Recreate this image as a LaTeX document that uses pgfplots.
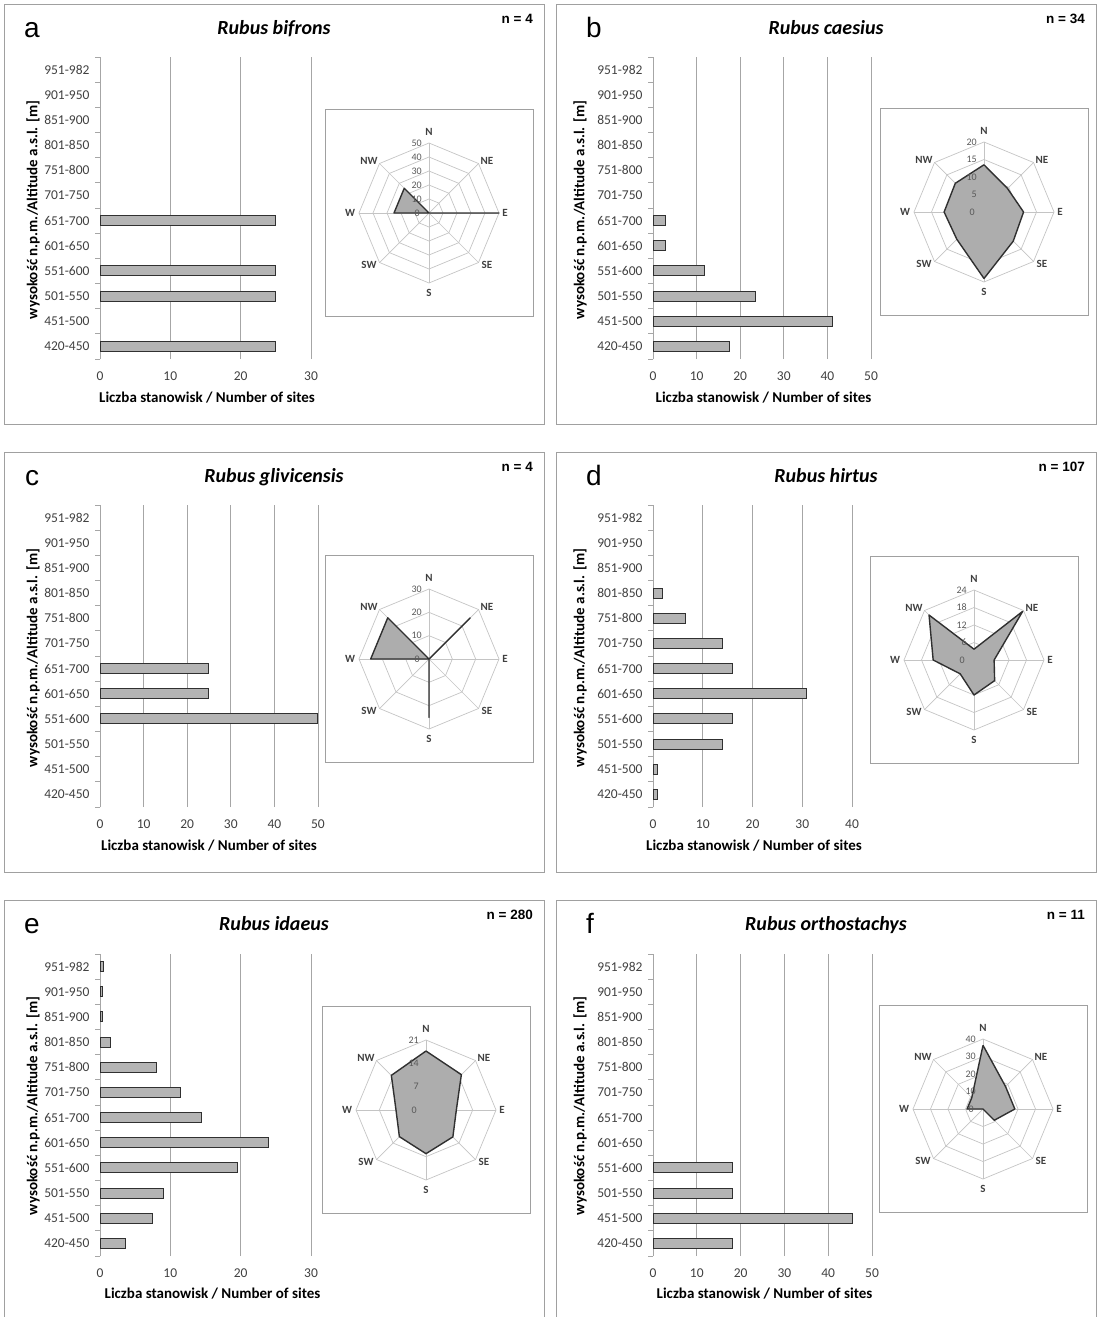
\documentclass[border=0pt]{standalone}
\usepackage{fontspec}
\setmainfont{Carlito}
\newfontfamily\arial{Liberation Sans}
\usepackage{pgfplots}
\pgfplotsset{compat=1.18}
\definecolor{barfill}{HTML}{B4B4B4}
\definecolor{barline}{HTML}{303030}
\definecolor{gridc}{HTML}{A6A6A6}
\definecolor{framec}{HTML}{A0A0A0}
\definecolor{radgrid}{HTML}{C4C4C4}
\definecolor{radfill}{HTML}{ADADAD}
\definecolor{tickc}{HTML}{404040}
\definecolor{rtickc}{HTML}{595959}
\newcommand\fs[1]{\fontsize{#1}{#1}\selectfont}
\pgfplotsset{
 barax/.style={
  scale only axis, height=302pt, anchor=south west,
  xmin=0, ymin=-0.5, ymax=11.5, xtick distance=10,
  axis lines*=left, x axis line style={draw=none}, y axis line style={-, gridc, line width=0.8pt},
  xbar, bar width=10pt,
  ytick={0,...,11},
  yticklabels={420-450,451-500,501-550,551-600,601-650,651-700,701-750,751-800,801-850,851-900,901-950,951-982},
  minor ytick={-0.5,0.5,...,11.5},
  major tick length=0pt, minor tick length=5pt, tick align=outside,
  minor tick style={gridc, line width=0.8pt},
  xmajorgrids, major grid style={gridc, line width=0.8pt},
  tick label style={font=\fs{13.5}, text=tickc},
  yticklabel style={xshift=-7pt},
  xticklabel style={yshift=-9pt},
  /pgf/number format/assume math mode=true,
  clip=false,
 },
 radax/.style={hide axis, scale only axis, width=140pt, height=140pt, anchor=center, clip=false},
}
% #1 cx, #2 cy, #3 max, #4 ring values, #5 coordinates
\newcommand\radar[5]{%
 \begin{scope}[shift={(#1pt,-#2pt)}]
  \draw[framec, line width=0.8pt] (-104pt,103.5pt) rectangle (104pt,-103.5pt);
  \foreach \k in {#4} {
   \pgfmathsetmacro\r{70*\k/#3}
   \draw[radgrid, line width=0.7pt] (0:\r pt) -- (45:\r pt) -- (90:\r pt) -- (135:\r pt) -- (180:\r pt) -- (225:\r pt) -- (270:\r pt) -- (315:\r pt) -- cycle;
  }
  \foreach \a in {0,45,...,315} \draw[radgrid, line width=0.7pt] (0,0) -- (\a:70pt);
 \end{scope}
 \begin{axis}[radax, at={(#1pt,-#2pt)}, xmin=-#3, xmax=#3, ymin=-#3, ymax=#3]
  \addplot[data cs=polar, fill=radfill, draw=barline, line width=1.4pt, line join=round] coordinates {#5};
 \end{axis}
 \begin{scope}[shift={(#1pt,-#2pt)}, font=\bfseries\fs{11}, text=tickc]
  \foreach \k in {#4} {
   \pgfmathsetmacro\r{70*\k/#3}
   \node[anchor=east, font=\fs{10}, text=rtickc, inner sep=0pt] at (-7pt,\r pt) {\k};
  }
  \node[anchor=east, font=\fs{10}, text=rtickc, inner sep=0pt] at (-9pt,0pt) {0};
  \node at (0pt,81pt) {N};
  \node at (58pt,52pt) {NE};
  \node at (76pt,0pt) {E};
  \node at (58pt,-52pt) {SE};
  \node at (0pt,-80pt) {S};
  \node at (-60pt,-52pt) {SW};
  \node at (-79pt,0pt) {W};
  \node at (-60pt,52pt) {NW};
 \end{scope}
}
% #1 letter x, #2 letter, #3 title, #4 n, #5 ylabel x, #6 xlabel x
\newcommand\panelframe[6]{%
 \draw[framec, line width=0.8pt] (0,0) rectangle (540pt,-420pt);
 \node[font=\arial\fs{28}, anchor=base, inner sep=0pt] at (#1pt,-33pt) {#2};
 \node[font=\bfseries\itshape\fs{20}, anchor=base, inner sep=0pt] at (270pt,-30.5pt) {#3};
 \node[font=\arial\bfseries\fs{13.5}, anchor=base east, inner sep=0pt] at (529pt,-19.5pt) {n = #4};
 \node[font=\bfseries\fs{15}, rotate=90, inner sep=0pt] at (#5pt,-206pt) {wysokość n.p.m./Altitude a.s.l. [m]};
 \node[font=\bfseries\fs{15}, inner sep=0pt] at (#6pt,-394pt) {Liczba stanowisk / Number of sites};
}
\begin{document}
\begin{tikzpicture}
\useasboundingbox (0,0) rectangle (1102pt,-1317pt);
\clip (0,0) rectangle (1102pt,-1317pt);
% ---------- a ----------
\begin{scope}[shift={(4pt,-4pt)}]
 \panelframe{28}{a}{Rubus bifrons}{4}{29}{203}
 \begin{axis}[barax, at={(96pt,-355pt)}, width=211pt, xmax=30]
  \addplot[fill=barfill, draw=barline, line width=1pt] coordinates {(25,0) (25,2) (25,3) (25,5)};
 \end{axis}
 \radar{425}{209}{50}{10,20,30,40,50}{(90,0) (45,0) (0,50) (-45,0) (-90,0) (-135,0) (180,25) (135,25) (90,0)}
\end{scope}
% ---------- b ----------
\begin{scope}[shift={(556pt,-4pt)}]
 \panelframe{38}{b}{Rubus caesius}{34}{24}{207.5}
 \begin{axis}[barax, at={(97pt,-355pt)}, width=218pt, xmax=50]
  \addplot[fill=barfill, draw=barline, line width=1pt] coordinates {(17.6,0) (41.2,1) (23.5,2) (11.8,3) (2.9,4) (2.9,5)};
 \end{axis}
 \radar{428}{208}{20}{5,10,15,20}{(90,13.5) (45,9.5) (0,11.3) (-45,11.8) (-90,19) (-135,11) (180,11.4) (135,11.6) (90,13.5)}
\end{scope}
% ---------- c ----------
\begin{scope}[shift={(4pt,-452pt)}]
 \panelframe{28}{c}{Rubus glivicensis}{4}{29}{205}
 \begin{axis}[barax, at={(96pt,-355pt)}, width=218pt, xmax=50]
  \addplot[fill=barfill, draw=barline, line width=1pt] coordinates {(50,3) (25,4) (25,5)};
 \end{axis}
 \radar{425}{207}{30}{10,20,30}{(90,0) (45,25) (0,0) (-45,0) (-90,25) (-135,0) (180,25) (135,25) (90,0)}
\end{scope}
% ---------- d ----------
\begin{scope}[shift={(556pt,-452pt)}]
 \panelframe{38}{d}{Rubus hirtus}{107}{24}{198}
 \begin{axis}[barax, at={(97pt,-355pt)}, width=199pt, xmax=40]
  \addplot[fill=barfill, draw=barline, line width=1pt] coordinates {(0.93,0) (0.93,1) (14.0,2) (15.9,3) (30.8,4) (15.9,5) (14.0,6) (6.5,7) (1.9,8)};
 \end{axis}
 \radar{418}{208}{24}{6,12,18,24}{(90,3.7) (45,23.6) (0,6.9) (-45,10) (-90,12) (-135,6.7) (180,14) (135,21.8) (90,3.7)}
\end{scope}
% ---------- e ----------
\begin{scope}[shift={(4pt,-900pt)}]
 \panelframe{28}{e}{Rubus idaeus}{280}{29}{208.5}
 \begin{axis}[barax, at={(96pt,-356pt)}, width=211pt, xmax=30]
  \addplot[fill=barfill, draw=barline, line width=1pt] coordinates {(3.6,0) (7.5,1) (9.0,2) (19.5,3) (24.0,4) (14.4,5) (11.4,6) (8.0,7) (1.5,8) (0.4,9) (0.4,10) (0.43,11)};
 \end{axis}
 \radar{422}{210}{21}{7,14,21}{(90,17.7) (45,15) (0,9.1) (-45,11.4) (-90,13.1) (-135,11.3) (180,9) (135,14.7) (90,17.7)}
\end{scope}
% ---------- f ----------
\begin{scope}[shift={(556pt,-900pt)}]
 \panelframe{34}{f}{Rubus orthostachys}{11}{24}{208.5}
 \begin{axis}[barax, at={(97pt,-356pt)}, width=219pt, xmax=50]
  \addplot[fill=barfill, draw=barline, line width=1pt] coordinates {(18.2,0) (45.5,1) (18.2,2) (18.2,3)};
 \end{axis}
 \radar{427}{209}{40}{10,20,30,40}{(90,36.4) (45,18.2) (0,18.2) (-45,9.1) (-90,0) (-135,0) (180,9.1) (135,9.1) (90,36.4)}
\end{scope}
\end{tikzpicture}
\end{document}
